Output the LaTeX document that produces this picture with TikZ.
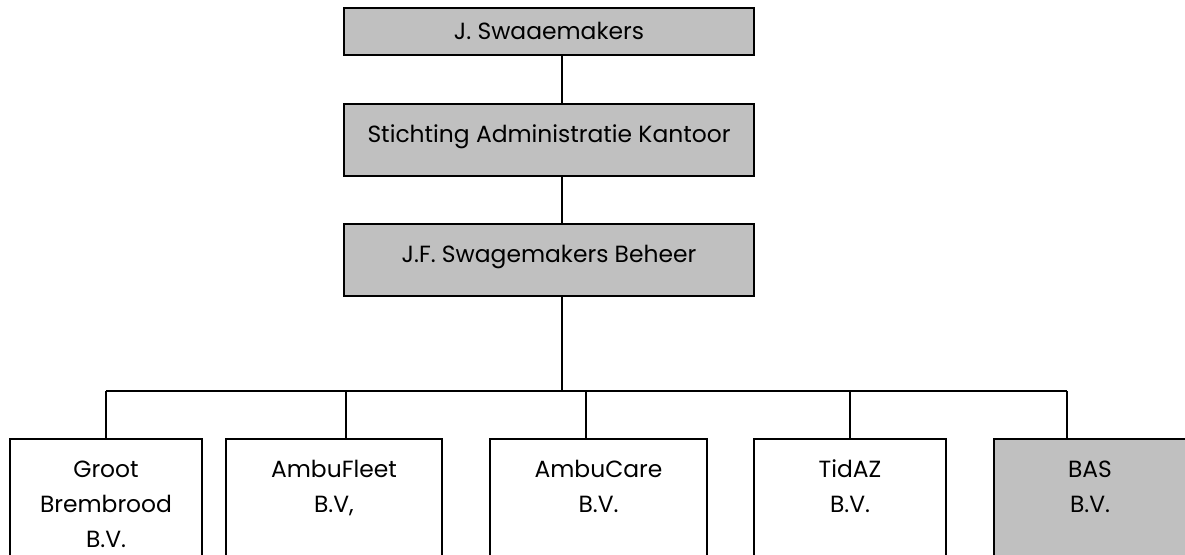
\documentclass[tikz,border=0pt]{standalone}
\usepackage{fontspec}
\setmainfont{Poppins}
\definecolor{boxgray}{HTML}{C0C0C0}
\newcommand{\unitname}[1]{\begin{tabular}[t]{@{}c@{}}#1\end{tabular}}
\tikzset{
  box/.style={draw=black, line width=0.9pt, anchor=north, inner sep=0pt,
    font=\fontsize{11.7}{17.5}\selectfont, text height=19.3pt},
  owner/.style={box, fill=boxgray, minimum width=205pt, text depth=16.7pt},
  unit/.style={box, fill=white, text depth=120pt},
  link/.style={line width=0.9pt}
}
\begin{document}
\begin{tikzpicture}[x=0.5pt,y=-0.5pt]
\useasboundingbox (0,0) rectangle (1185,555);
\clip (0,0) rectangle (1185,555);
\node[owner, text height=15.8pt, text depth=7.7pt] (js) at (549,7) {J. Swaaemakers};
\node[owner] (sak) at (549,103) {Stichting Administratie Kantoor};
\node[owner] (beheer) at (549,223) {J.F. Swagemakers Beheer};
\node[unit, minimum width=96pt] (groot) at (106,438) {\unitname{Groot\\Brembrood\\B.V.}};
\node[unit, minimum width=108pt] (fleet) at (334,438) {\unitname{AmbuFleet\\B.V,}};
\node[unit, minimum width=108.5pt] (care) at (598.5,438) {\unitname{AmbuCare\\B.V.}};
\node[unit, minimum width=96pt] (tidaz) at (850,438) {\unitname{TidAZ\\B.V.}};
\node[unit, minimum width=96pt, fill=boxgray] (bas) at (1090,438) {\unitname{BAS\\B.V.}};
\coordinate (spine) at (562,391);
\coordinate (busL) at (106,391);
\coordinate (busR) at (1067,391);
\draw[link] (js.south -| spine) -- (sak.north -| spine);
\draw[link] (sak.south -| spine) -- (beheer.north -| spine);
\draw[link] (beheer.south -| spine) -- (spine);
\draw[link] (busL) -- (busR);
\draw[link] (busL) -- (groot.north);
\draw[link] (346,391) -- (fleet.north -| 346,0);
\draw[link] (586,391) -- (care.north -| 586,0);
\draw[link] (tidaz.north |- spine) -- (tidaz.north);
\draw[link] (busR) -- (bas.north -| busR);
\end{tikzpicture}
\end{document}
